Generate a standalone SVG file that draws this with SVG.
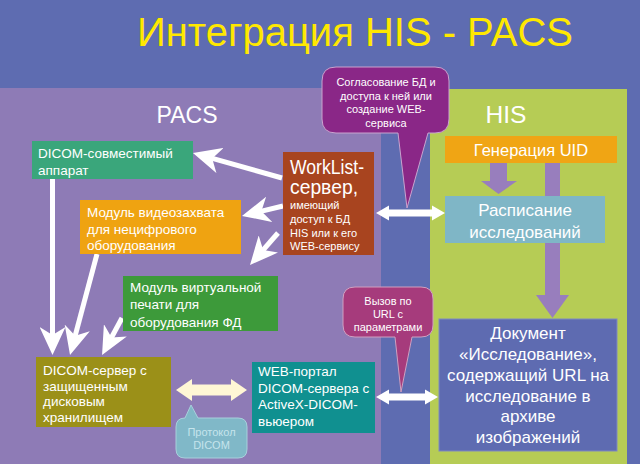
<svg xmlns="http://www.w3.org/2000/svg" width="640" height="464" viewBox="0 0 640 464">
<defs>
<style>
text{font-family:"Liberation Sans",Arial,sans-serif;fill:#fff}
.s13{font-size:13.5px}
.s11{font-size:11px}
.c{text-anchor:middle}
.wl{stroke:#fff;stroke-width:5;fill:none}
</style>
<marker id="ah" markerUnits="userSpaceOnUse" viewBox="0 0 28 26" markerWidth="28" markerHeight="26" refX="18" refY="13" orient="auto">
<path d="M0,0 L28,13 L0,26 L8,13 Z" fill="#fff"/>
</marker>
</defs>
<rect width="640" height="464" fill="#5E6CB1"/>
<rect x="0" y="88" width="381" height="376" fill="#8E7BB6"/>
<rect x="430" y="89" width="197" height="375" fill="#B6CC55"/>
<text x="355" y="46" class="c" style="font-size:40px;fill:#FFE800" textLength="436" lengthAdjust="spacingAndGlyphs">Интеграция HIS - PACS</text>
<text x="187" y="123" class="c" style="font-size:24px" textLength="61" lengthAdjust="spacingAndGlyphs">PACS</text>
<text x="506" y="123" class="c" style="font-size:24px" textLength="41" lengthAdjust="spacingAndGlyphs">HIS</text>

<g id="connectors">
<rect x="545" y="163" width="15" height="133" fill="#987EBD"/>
<polygon points="536,295 569,295 552.5,318" fill="#987EBD"/>
<polygon points="490,163 507,163 507,181 517,181 498.5,194 481,181 490,181" fill="#987EBD"/>
<line class="wl" x1="282" y1="178" x2="202.6" y2="155.7" marker-end="url(#ah)"/>
<line class="wl" x1="283" y1="206" x2="251.7" y2="213.6" marker-end="url(#ah)"/>
<line class="wl" x1="278" y1="233" x2="256.6" y2="257.5" marker-end="url(#ah)"/>
<line class="wl" x1="52.5" y1="179" x2="52.5" y2="345" marker-end="url(#ah)"/>
<line class="wl" x1="97" y1="254" x2="72.6" y2="345.3" marker-end="url(#ah)"/>
<line class="wl" x1="122" y1="318" x2="106.8" y2="346.2" marker-end="url(#ah)"/>
<polygon points="376,213 389,205.5 389,209.5 432,209.5 432,205.5 445,213 432,220.5 432,216.5 389,216.5 389,220.5" fill="#fff"/>
<polygon points="376,397 389,389.5 389,393.5 425,393.5 425,389.5 438,397 425,404.5 425,400.5 389,400.5 389,404.5" fill="#fff"/>
<polygon points="176,390 192,379 192,384.5 231,384.5 231,379 247,390 231,401 231,395.5 192,395.5 192,401" fill="#FFF6D5"/>
</g>

<g id="callout-db">
<path d="M336,67 H435 Q449,67 449,81 V119 Q449,133 435,133 H428 L407,208 L398,133 H336 Q322,133 322,119 V81 Q322,67 336,67 Z" fill="#8A2787" stroke="#C9A3CE" stroke-width="1"/>
<text class="s11 c" x="386" y="86">Согласование БД и</text>
<text class="s11 c" x="386" y="99.5">доступа к ней или</text>
<text class="s11 c" x="386" y="113">создание WEB-</text>
<text class="s11 c" x="386" y="126.5">сервиса</text>
</g>

<g id="callout-url">
<path d="M355,287 H421 Q433,287 433,299 V325 Q433,337 421,337 H412 L401,392 L395,337 H355 Q343,337 343,325 V299 Q343,287 355,287 Z" fill="#A63B7C" stroke="#CFA0C0" stroke-width="1"/>
<text class="s11 c" x="388" y="305">Вызов по</text>
<text class="s11 c" x="388" y="318">URL с</text>
<text class="s11 c" x="388" y="331">параметрами</text>
</g>

<g id="callout-dicom">
<path d="M185,418 L191,405 L198,418 H238 Q247,418 247,427 V449 Q247,458 238,458 H185 Q176,458 176,449 V427 Q176,418 185,418 Z" fill="#80B8C8" stroke="#A8D0DC" stroke-width="1"/>
<text class="s11 c" x="211.5" y="436" style="fill:#C5E4EC">Протокол</text>
<text class="s11 c" x="211.5" y="449" style="fill:#C5E4EC">DICOM</text>
</g>

<g id="worklist">
<rect x="283" y="152" width="91" height="103" fill="#A8441F"/>
<text x="290" y="174" style="font-size:20px" textLength="74" lengthAdjust="spacingAndGlyphs">WorkList-</text>
<text x="290" y="194" style="font-size:20px" textLength="68" lengthAdjust="spacingAndGlyphs">сервер,</text>
<text class="s11" x="290" y="209">имеющий</text>
<text class="s11" x="290" y="223">доступ к БД</text>
<text class="s11" x="290" y="237">HIS или к его</text>
<text class="s11" x="290" y="250">WEB-сервису</text>
</g>

<g id="dicom-device">
<rect x="32" y="141" width="161" height="38" fill="#3AA67B"/>
<text class="s13" x="38" y="157.5">DICOM-совместимый</text>
<text class="s13" x="38" y="174.5">аппарат</text>
</g>

<g id="video-module">
<rect x="80" y="200" width="161" height="54" fill="#EFA311"/>
<text class="s13" x="87" y="217">Модуль видеозахвата</text>
<text class="s13" x="87" y="233.5">для нецифрового</text>
<text class="s13" x="87" y="250">оборудования</text>
</g>

<g id="print-module">
<rect x="123" y="276" width="155" height="55" fill="#3D9A3A"/>
<text class="s13" x="130" y="292">Модуль виртуальной</text>
<text class="s13" x="130" y="309">печати для</text>
<text class="s13" x="130" y="326.5">оборудования ФД</text>
</g>

<g id="dicom-server">
<rect x="36" y="357" width="135" height="70" fill="#9B9018"/>
<text class="s13" x="43" y="375">DICOM-сервер с</text>
<text class="s13" x="43" y="390.5">защищенным</text>
<text class="s13" x="43" y="406">дисковым</text>
<text class="s13" x="43" y="421.5">хранилищем</text>
</g>

<g id="web-portal">
<rect x="252" y="362" width="123" height="71" fill="#109090"/>
<text class="s13" x="258" y="376">WEB-портал</text>
<text class="s13" x="258" y="392.5">DICOM-сервера с</text>
<text class="s13" x="258" y="409">ActiveX-DICOM-</text>
<text class="s13" x="258" y="426">вьюером</text>
</g>

<g id="uid">
<rect x="445" y="136" width="172" height="27" fill="#F0A514"/>
<text x="531" y="155.5" class="c" style="font-size:16.5px">Генерация UID</text>
</g>

<g id="schedule">
<rect x="445" y="196" width="160" height="47" fill="#7FB6C6"/>
<text x="525" y="216" class="c" style="font-size:17px">Расписание</text>
<text x="525" y="238" class="c" style="font-size:17px">исследований</text>
</g>

<g id="document">
<rect x="439" y="319" width="178" height="132" fill="#5E6BB1" stroke="#7F89C2" stroke-width="1"/>
<text x="528" y="339" class="c" style="font-size:17px">Документ</text>
<text x="528" y="360" class="c" style="font-size:17px">«Исследование»,</text>
<text x="528" y="381" class="c" style="font-size:17px">содержащий URL на</text>
<text x="528" y="402" class="c" style="font-size:17px">исследование в</text>
<text x="528" y="422" class="c" style="font-size:17px">архиве</text>
<text x="528" y="443" class="c" style="font-size:17px">изображений</text>
</g>
</svg>
